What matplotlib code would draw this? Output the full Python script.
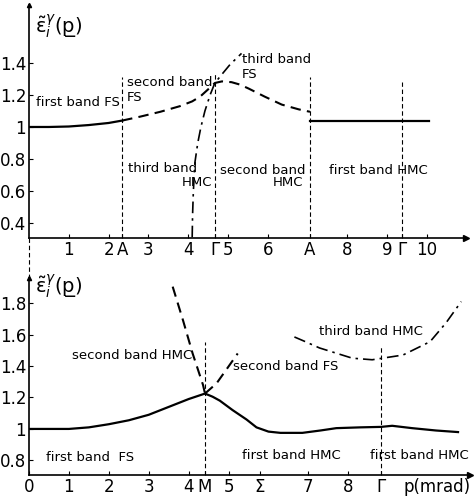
import matplotlib
matplotlib.use('Agg')
import matplotlib.pyplot as plt

plt.rcParams['font.family'] = ['DejaVu Sans']

# ---- upper panel: path 0 -> A -> Gamma -> A -> Gamma ----
top_fs1_x = [0, 0.5, 1.0, 1.5, 2.0, 2.34]
top_fs1_y = [1.0, 1.0, 1.003, 1.012, 1.025, 1.04]

top_fs2_x = [2.34, 2.8, 3.3, 3.79, 4.1, 4.3, 4.5, 4.67, 4.85, 5.09, 5.3, 5.52, 5.92, 6.35, 6.78, 7.06]
top_fs2_y = [1.04, 1.065, 1.095, 1.13, 1.16, 1.19, 1.235, 1.275, 1.285, 1.28, 1.265, 1.24, 1.19, 1.14, 1.11, 1.095]

top_hmc1_x = [7.06, 10.05]
top_hmc1_y = [1.04, 1.04]

top_b3_x = [4.10, 4.11, 4.13, 4.17, 4.24, 4.32, 4.42, 4.55, 4.67, 4.85, 5.05, 5.34]
top_b3_y = [0.31, 0.45, 0.60, 0.78, 0.90, 1.0, 1.1, 1.2, 1.275, 1.33, 1.39, 1.46]

top_vlines = [(2.34, 1.31), (4.67, 1.34), (7.06, 1.31), (9.37, 1.28)]
top_xticks = [1, 2, 2.34, 3, 4, 4.67, 5, 6, 7.06, 8, 9, 9.37, 10]
top_xlabels = ['1', '2', 'A', '3', '4', 'Γ', '5', '6', 'A', '8', '9', 'Γ', '10']
top_yticks = [0.4, 0.6, 0.8, 1.0, 1.2, 1.4]
top_ylabels = ['0.4', '0.6', '0.8', '1', '1.2', '1.4']

# ---- lower panel: path 0 -> M -> Sigma -> Gamma ----
bot_fs1_x = [0, 0.5, 1.0, 1.5, 2.0, 2.5, 3.0, 3.5, 4.0, 4.41]
bot_fs1_y = [1.0, 1.0, 1.0, 1.01, 1.03, 1.055, 1.09, 1.14, 1.19, 1.225]

bot_hmc1_x = [4.41, 4.6, 4.78, 5.1, 5.45, 5.7, 6.0, 6.3, 6.85, 7.3, 7.7, 8.3, 8.82, 9.1, 9.6, 10.2, 10.75]
bot_hmc1_y = [1.225, 1.205, 1.18, 1.12, 1.06, 1.01, 0.983, 0.975, 0.975, 0.99, 1.005, 1.01, 1.013, 1.02, 1.005, 0.99, 0.98]

bot_hmc2_x = [3.6, 3.86, 4.1, 4.36, 4.41]
bot_hmc2_y = [1.905, 1.69, 1.48, 1.28, 1.225]

bot_fs2_x = [4.41, 4.7, 4.98, 5.23]
bot_fs2_y = [1.225, 1.29, 1.39, 1.48]

bot_hmc3_x = [6.65, 6.88, 7.28, 8.1, 8.6, 9.37, 10.05, 10.45, 10.83]
bot_hmc3_y = [1.585, 1.56, 1.515, 1.45, 1.44, 1.47, 1.555, 1.675, 1.81]

bot_vlines = [(4.41, 1.55), (8.82, 1.535)]
bot_xticks = [0, 1, 2, 3, 4, 4.41, 5, 5.79, 7, 8, 8.82]
bot_xlabels = ['0', '1', '2', '3', '4', 'M', '5', 'Σ', '7', '8', 'Γ']
bot_yticks = [0.8, 1.0, 1.2, 1.4, 1.6, 1.8]
bot_ylabels = ['0.8', '1', '1.2', '1.4', '1.6', '1.8']

DASH = (5, 3)
DASHDOT = (7, 3, 1.5, 3)
VDASH = (4, 2.5)
LBL = 9.5
TICK = 12
YLAB = r'$\tilde{\mathrm{\varepsilon}}^{\gamma}_{i}$(p' + '\u0332' + ')'

fig = plt.figure(figsize=(4.76, 5.03), dpi=100)
ax1 = fig.add_axes([29/476, 1 - 238/503, (466 - 29)/476, (238 - 5)/503])
ax2 = fig.add_axes([29/476, 1 - 475/503, (470 - 29)/476, (475 - 278)/503])


def style_axes(ax, xmax, ylo, yhi):
    ax.set_xlim(0, xmax)
    ax.set_ylim(ylo, yhi)
    ax.patch.set_alpha(0)
    for s in ['top', 'right']:
        ax.spines[s].set_visible(False)
    for s in ['left', 'bottom']:
        ax.spines[s].set_linewidth(1.2)
    ax.tick_params(direction='in', length=3, width=0.8, labelsize=TICK, pad=2)
    ax.plot(1, 0, '>k', ms=5, transform=ax.transAxes, clip_on=False)
    ax.plot(0, 1, '^k', ms=3, transform=ax.transAxes, clip_on=False)


# upper panel
style_axes(ax1, 10.98, 0.306, 1.7625)
ax1.plot(top_fs1_x, top_fs1_y, color='k', lw=1.6)
ax1.plot(top_fs2_x, top_fs2_y, color='k', lw=1.5, dashes=DASH)
ax1.plot(top_hmc1_x, top_hmc1_y, color='k', lw=1.6)
ax1.plot(top_b3_x, top_b3_y, color='k', lw=1.2, dashes=DASHDOT)
for x, ytop in top_vlines:
    ax1.plot([x, x], [0.306, ytop], color='k', lw=0.8, dashes=VDASH)
ax1.plot([0, 0], [0.306, 0.05], color='k', lw=0.8, dashes=VDASH, clip_on=False)
ax1.set_xticks(top_xticks, top_xlabels)
ax1.set_yticks(top_yticks, top_ylabels)
ax1.text(0.15, 1.625, YLAB, fontsize=14, ha='left', va='center')

ax1.text(0.18, 1.156, 'first band FS', fontsize=LBL, va='center')
ax1.text(2.46, 1.23, 'second band\nFS', fontsize=LBL, va='center', linespacing=1.15)
ax1.text(2.49, 0.7375, 'third band', fontsize=LBL, va='center')
ax1.text(4.6, 0.65, 'HMC', fontsize=LBL, va='center', ha='right')
ax1.text(4.8, 0.73, 'second band', fontsize=LBL, va='center')
ax1.text(6.88, 0.65, 'HMC', fontsize=LBL, va='center', ha='right')
ax1.text(7.54, 0.73, 'first band HMC', fontsize=LBL, va='center')
ax1.text(5.35, 1.375, 'third band\nFS', fontsize=LBL, va='center', linespacing=1.15)

# lower panel
style_axes(ax2, 11.05, 0.707, 1.96)
ax2.plot(bot_fs1_x, bot_fs1_y, color='k', lw=1.6)
ax2.plot(bot_hmc1_x, bot_hmc1_y, color='k', lw=1.6)
ax2.plot(bot_hmc2_x, bot_hmc2_y, color='k', lw=1.5, dashes=DASH)
ax2.plot(bot_fs2_x, bot_fs2_y, color='k', lw=1.5, dashes=DASH)
ax2.plot(bot_hmc3_x, bot_hmc3_y, color='k', lw=1.2, dashes=DASHDOT)
for x, ytop in bot_vlines:
    ax2.plot([x, x], [0.707, ytop], color='k', lw=0.8, dashes=VDASH)
ax2.set_xticks(bot_xticks, bot_xlabels)
ax2.set_yticks(bot_yticks, bot_ylabels)
ax2.text(0.15, 1.90, YLAB, fontsize=14, ha='left', va='center')
ax2.text(10.23, -0.061, 'p(mrad)', fontsize=TICK, ha='center', va='center',
         transform=ax2.get_xaxis_transform())

ax2.text(4.09, 1.47, 'second band HMC', fontsize=LBL, va='center', ha='right')
ax2.text(5.11, 1.395, 'second band FS', fontsize=LBL, va='center')
ax2.text(7.27, 1.62, 'third band HMC', fontsize=LBL, va='center')
ax2.text(0.43, 0.82, 'first band  FS', fontsize=LBL, va='center')
ax2.text(5.34, 0.834, 'first band HMC', fontsize=LBL, va='center')
ax2.text(8.55, 0.834, 'first band HMC', fontsize=LBL, va='center', clip_on=False)

fig.savefig('out.png', dpi=100)
